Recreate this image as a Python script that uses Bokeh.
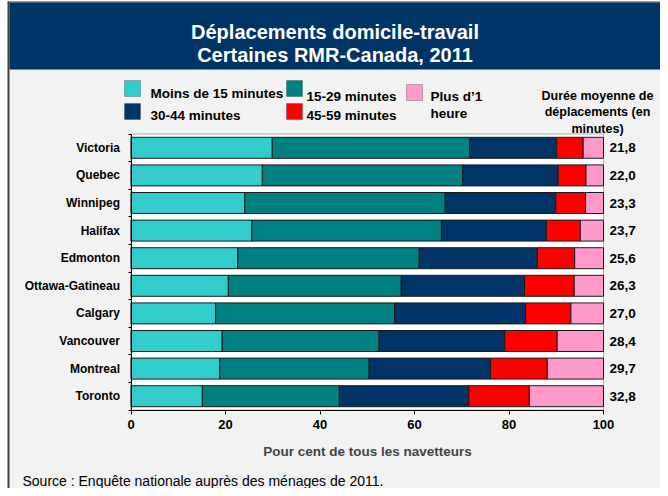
from bokeh.plotting import figure
from bokeh.models import BoxAnnotation, Label, LinearAxis, FixedTicker, Range1d, ColumnDataSource
from bokeh.embed import file_html
from bokeh.resources import INLINE

# ---------------- data ----------------
cities = ["Victoria", "Quebec", "Winnipeg", "Halifax", "Edmonton",
          "Ottawa-Gatineau", "Calgary", "Vancouver", "Montreal", "Toronto"]
avg_minutes = ["21,8", "22,0", "23,3", "23,7", "25,6", "26,3", "27,0", "28,4", "29,7", "32,8"]
lt15 = [29.9, 27.8, 24.1, 25.6, 22.6, 20.6, 17.9, 19.3, 18.8, 15.1]
m15_29 = [41.8, 42.4, 42.4, 40.1, 38.4, 36.6, 37.9, 33.2, 31.6, 29.0]
m30_44 = [18.4, 20.2, 23.4, 22.2, 25.0, 26.1, 27.7, 26.6, 25.7, 27.4]
m45_59 = [5.6, 5.9, 6.3, 7.2, 7.9, 10.5, 9.6, 11.1, 12.0, 12.8]
m60p = [4.3, 3.7, 3.8, 4.9, 6.1, 6.2, 6.9, 9.8, 11.9, 15.7]
series_names = ["Moins de 15 minutes", "15-29 minutes", "30-44 minutes", "45-59 minutes", "Plus d\u20191 heure"]
x_ticks = [0, 20, 40, 60, 80, 100]

colors = ["#33CCCC", "#008080", "#003366", "#FF0000", "#FF99CC"]
FONT = "Liberation Sans"

n = len(cities)
ypos = [n - 0.5 - i for i in range(n)]
src = ColumnDataSource(dict(y=ypos, a=lt15, b=m15_29, c=m30_44, d=m45_59, e=m60p))

# ---------------- layout (canvas pixels) ----------------
W, H = 660, 488
O = 8                          # page margin
PL, PR = 138.5 - O, 611 - O    # plot area left/right on canvas
PT, PB = 141.5 - O, 417.5 - O  # plot area top/bottom on canvas
kx = (PR - PL) / 100.0
ky = (PB - PT) / n
x_rng = Range1d(-PL / kx, 100 + (W - PR) / kx)
y_rng = Range1d(-(H - PB) / ky, n + PT / ky)

p = figure(width=W, height=H, min_border=0, x_range=x_rng, y_range=y_rng,
           output_backend="svg", toolbar_location=None)
p.background_fill_color = "#F2F2F2"
p.border_fill_color = "#F2F2F2"
p.outline_line_color = None
p.grid.visible = False

# white plot area with black frame
p.add_layout(BoxAnnotation(left=0, right=100, bottom=0, top=n, fill_color="white", fill_alpha=1,
                           line_color="black", line_width=1, level="underlay"))

p.hbar_stack(["a", "b", "c", "d", "e"], y="y", height=0.76, color=colors,
             line_color="#1a1a1a", line_width=1, source=src)

# x axis
xa = p.xaxis[0]
xa.fixed_location = 0
xa.bounds = (0, 100)
xa.ticker = FixedTicker(ticks=x_ticks, minor_ticks=[])
xa.axis_label = "Pour cent de tous les navetteurs"
xa.axis_label_text_font = FONT
xa.axis_label_text_font_size = "13.5px"
xa.axis_label_text_font_style = "bold"
xa.axis_label_standoff = 11
xa.major_label_text_font = FONT
xa.major_label_text_font_size = "13px"
xa.major_label_text_font_style = "bold"
xa.major_label_text_color = "black"
xa.major_label_standoff = 6
xa.major_tick_in = 0
xa.major_tick_out = 4
xa.axis_line_color = "black"
xa.major_tick_line_color = "black"

# left axis: city names, ticks at category boundaries
ya = p.yaxis[0]
ya.fixed_location = 0
ya.bounds = (0, n)
ya.ticker = FixedTicker(ticks=ypos, minor_ticks=list(range(n + 1)))
ya.major_label_overrides = {y: c for y, c in zip(ypos, cities)}
ya.major_label_text_font = FONT
ya.major_label_text_font_size = "12px"
ya.major_label_text_font_style = "bold"
ya.major_label_text_color = "black"
ya.major_tick_in = 0
ya.major_tick_out = 0
ya.major_tick_line_color = None
ya.minor_tick_in = 0
ya.minor_tick_out = 3
ya.minor_tick_line_color = "black"
ya.major_label_standoff = 8
ya.axis_line_color = "black"

# right axis: average duration
ra = LinearAxis(fixed_location=100, bounds=(0, n), ticker=FixedTicker(ticks=ypos, minor_ticks=[]))
ra.major_label_overrides = {y: v for y, v in zip(ypos, avg_minutes)}
ra.major_label_text_font = FONT
ra.major_label_text_font_size = "13.5px"
ra.major_label_text_font_style = "bold"
ra.major_label_text_color = "black"
ra.major_tick_in = 0
ra.major_tick_out = 0
ra.major_tick_line_color = None
ra.minor_tick_line_color = None
ra.axis_line_color = None
ra.major_label_standoff = 6
p.add_layout(ra, "right")


def sx(px):   # page x -> screen units
    return px - O


def sy(py):   # page y -> screen units (measured upwards from the bottom)
    return H - (py - O)


def box(l, r, t, b, fill, line=None, lw=1):
    p.add_layout(BoxAnnotation(left=sx(l), right=sx(r), top=sy(t), bottom=sy(b),
                               left_units="screen", right_units="screen",
                               top_units="screen", bottom_units="screen",
                               fill_color=fill, fill_alpha=1, line_color=line, line_width=lw))


def label(x, y, text, size="13.5px", style="bold", align="left", color="black"):
    p.add_layout(Label(x=sx(x), y=sy(y), x_units="screen", y_units="screen", text=text,
                       text_font=FONT, text_font_size=size, text_font_style=style,
                       text_align=align, text_baseline="alphabetic", text_color=color))


# white surround and dark frame border
box(8, 15, 8, 496, "white")
box(8, 668, 8, 9, "white")
box(15, 17, 9, 496, "#404040")
box(15, 668, 9, 10, "#404040")
# title band
box(17, 668, 10, 77, "#003366")
label(342.5, 39.5, "D\u00e9placements domicile-travail", size="20px", align="center", color="white")
label(342.5, 62, "Certaines RMR-Canada, 2011", size="20px", align="center", color="white")

# legend squares (page coords: left, top) and texts
squares = [(132, 88), (294, 88), (132, 111), (294, 111), (414, 92)]
for i, (qx, qy) in enumerate(squares):
    box(qx, qx + 16, qy, qy + 16, colors[i], line="#333333")
label(158, 100.5, series_names[0])
label(314, 104, series_names[1])
label(158, 122.5, series_names[2])
label(314, 122.5, series_names[3])
label(438, 103.5, "Plus d\u20191")
label(438, 121, "heure")

# header above the right-hand values
label(605, 103, "Dur\u00e9e moyenne de", size="12.5px", align="center")
label(605, 119.5, "d\u00e9placements (en", size="12.5px", align="center")
label(605, 136, "minutes)", size="12.5px", align="center")

# source note
label(30, 488.5, "Source : Enqu\u00eate nationale aupr\u00e8s des m\u00e9nages de 2011.", size="14px", style="normal")

open("out.html", "w").write(file_html(p, INLINE))
